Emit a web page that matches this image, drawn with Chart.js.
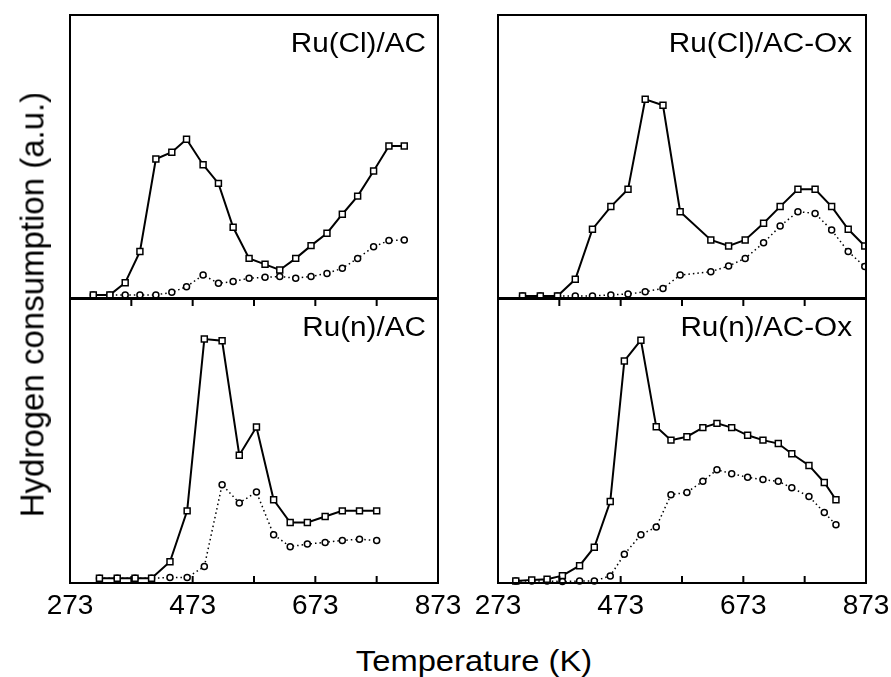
<!DOCTYPE html>
<html>
<head>
<meta charset="utf-8">
<script src="https://cdn.jsdelivr.net/npm/chart.js@4.4.1/dist/chart.umd.min.js"></script>
<style>
  html, body { margin: 0; padding: 0; background: #fff; overflow: hidden; }
  body { width: 891px; height: 677px; position: relative; font-family: 'Liberation Sans', Arial, sans-serif; color: #000; }
  canvas { position: absolute; }
  #xtitle { position: absolute; left: 474px; top: 646px; font-size: 30px; line-height: 1; white-space: nowrap;
            transform: translateX(-50%) scaleX(1.09); }
  #ytitle { position: absolute; left: -268px; top: 288px; width: 600px; height: 33px; font-size: 33px; line-height: 33px;
            text-align: center; white-space: nowrap; transform: rotate(-90deg); }
</style>
</head>
<body>
<canvas id="c1" width="428" height="303" style="left:40px;top:5px"></canvas>
<canvas id="c2" width="423" height="303" style="left:468px;top:5px"></canvas>
<canvas id="c3" width="428" height="334" style="left:40px;top:289px"></canvas>
<canvas id="c4" width="423" height="334" style="left:468px;top:289px"></canvas>
<div id="xtitle">Temperature (K)</div>
<div id="ytitle">Hydrogen consumption (a.u.)</div>
<script>
// 刻度
const labelTemps = [273, 473, 673, 873];
const minorTemps = [373, 473, 573, 673, 773];

// Ru(Cl)/AC
const tempsClAC = [311, 338, 363, 387, 413, 439, 463, 490, 515, 539, 565, 591, 615, 641, 666, 692, 717, 742, 768, 793, 818];
const sqClAC = [1.1, 1.1, 5.4, 16.4, 49.1, 51.5, 56.1, 47.1, 40.5, 25.0, 14.0, 11.9, 9.9, 14.0, 18.5, 22.9, 29.6, 36.0, 44.9, 53.7, 53.7];
const ciClAC = [1.1, 1.1, 1.1, 1.1, 1.1, 2.0, 4.0, 8.1, 5.2, 5.8, 7.0, 7.3, 7.6, 7.0, 7.6, 8.7, 10.5, 14.0, 18.1, 20.3, 20.5];

// Ru(Cl)/AC-Ox
const tempsClOx = [313, 342, 370, 399, 427, 457, 485, 513, 542, 570, 620, 649, 676, 706, 733, 762, 790, 817, 844, 871];
const sqClOx = [0.7, 0.7, 0.7, 6.6, 24.3, 32.3, 38.4, 70.2, 68.1, 30.5, 20.5, 18.4, 20.5, 26.4, 32.3, 38.4, 38.4, 32.3, 24.3, 18.4];
const ciClOx = [0.7, 0.7, 0.7, 0.7, 0.7, 1.1, 1.4, 2.2, 3.4, 8.1, 9.3, 11.3, 14.0, 19.5, 25.4, 30.5, 29.9, 24.0, 16.4, 11.1];

// Ru(n)/AC
const tempsNAC = [321, 350, 379, 406, 436, 464, 492, 521, 549, 577, 605, 632, 660, 689, 717, 745, 773];
const sqNAC = [1.7, 1.7, 1.7, 1.7, 7.5, 25.4, 85.9, 85.3, 45.0, 54.9, 29.3, 21.3, 21.3, 23.4, 25.4, 25.4, 25.4];
const ciNAC = [1.7, 1.7, 1.7, 1.7, 1.9, 1.9, 5.8, 34.6, 28.2, 32.0, 17.0, 12.8, 13.7, 14.3, 15.0, 15.4, 15.0];

// Ru(n)/AC-Ox
const tempsNOx = [302, 328, 353, 378, 406, 430, 456, 479, 506, 531, 555, 581, 607, 630, 654, 680, 705, 730, 752, 780, 805, 824];
const sqNOx = [0.7, 1.1, 1.3, 2.6, 6.1, 12.6, 28.7, 78.2, 85.5, 55.0, 50.3, 51.5, 54.7, 56.2, 54.7, 52.0, 50.3, 49.1, 45.5, 41.4, 35.4, 29.3];
const ciNOx = [0.7, 0.7, 0.7, 0.5, 0.7, 0.7, 2.5, 10.1, 17.0, 19.7, 31.1, 31.9, 35.8, 39.9, 38.5, 37.2, 36.4, 35.8, 33.5, 30.5, 24.8, 20.5];

const FONT = "'Liberation Sans', Arial, sans-serif";

//邊框、內刻度、面板標題
const framePlugin = {
  id: 'frame',
  afterDatasetsDraw(chart, args, opts) {
    const ctx = chart.ctx;
    const a = chart.chartArea;
    const x = chart.scales.x;
    ctx.save();
    ctx.strokeStyle = '#000';
    ctx.lineWidth = 2;
    ctx.strokeRect(a.left, a.top, a.right - a.left, a.bottom - a.top);
    if (opts.ticks) {
      ctx.beginPath();
      minorTemps.forEach(t => {
        const px = x.getPixelForValue(t);
        ctx.moveTo(px, a.bottom);
        ctx.lineTo(px, a.bottom - 7);
        ctx.moveTo(px, a.top);
        ctx.lineTo(px, a.top + 7);
      });
      ctx.stroke();
    }
    ctx.fillStyle = '#000';
    ctx.font = '27px ' + FONT;
    ctx.textAlign = 'right';
    ctx.textBaseline = 'alphabetic';
    ctx.translate(a.right - opts.inset, a.top + 37);
    ctx.scale(1.1, 1);
    ctx.fillText(opts.title, 0, 0);
    ctx.restore();
  }
};

function pts(temps, vals) {
  return temps.map((t, i) => ({ x: t, y: vals[i] }));
}

function makePanel(id, title, temps, sq, ci, opt) {
  const ctx = document.getElementById(id).getContext('2d');
  return new Chart(ctx, {
    type: 'line',
    data: {
      datasets: [{
        data: pts(temps, sq),
        borderColor: '#000',
        borderWidth: 2,
        pointStyle: 'rect',
        pointRadius: 4.2,
        pointBorderWidth: 1.5,
        pointBorderColor: '#000',
        pointBackgroundColor: '#fff',
        tension: 0,
        clip: { left: 5, right: 0, top: 5, bottom: 5 }
      }, {
        data: pts(temps, ci),
        borderColor: '#000',
        borderWidth: 1.5,
        borderDash: [1.5, 3],
        pointStyle: 'circle',
        pointRadius: 3,
        pointBorderWidth: 1.5,
        pointBorderColor: '#000',
        pointBackgroundColor: '#fff',
        tension: 0,
        clip: { left: 5, right: 0, top: 5, bottom: 5 }
      }]
    },
    options: {
      responsive: false,
      animation: false,
      events: [],
      layout: { padding: { left: 30, right: opt.right, top: 10, bottom: opt.bottomAxis ? 0 : 10 } },
      plugins: {
        legend: { display: false },
        tooltip: { enabled: false },
        frame: { title: title, inset: opt.inset, ticks: opt.bottomAxis }
      },
      scales: {
        x: {
          type: 'linear',
          min: 273,
          max: 873,
          display: opt.bottomAxis,
          grid: { display: false },
          border: { display: false },
          afterBuildTicks: (scale) => { scale.ticks = labelTemps.map(v => ({ value: v })); },
          afterFit: (scale) => { if (opt.bottomAxis) scale.height = 40; },
          ticks: {
            autoSkip: false,
            maxRotation: 0,
            padding: -2,
            color: '#000',
            font: { family: FONT, size: 28 },
            callback: (v) => String(v)
          }
        },
        y: { type: 'linear', min: 0, max: 100, display: false }
      }
    },
    plugins: [framePlugin]
  });
}

makePanel('c1', 'Ru(Cl)/AC', tempsClAC, sqClAC, ciClAC, { right: 30, inset: 12, bottomAxis: false });
makePanel('c2', 'Ru(Cl)/AC-Ox', tempsClOx, sqClOx, ciClOx, { right: 25, inset: 14, bottomAxis: false });
makePanel('c3', 'Ru(n)/AC', tempsNAC, sqNAC, ciNAC, { right: 30, inset: 12, bottomAxis: true });
makePanel('c4', 'Ru(n)/AC-Ox', tempsNOx, sqNOx, ciNOx, { right: 25, inset: 14, bottomAxis: true });
</script>
</body>
</html>
